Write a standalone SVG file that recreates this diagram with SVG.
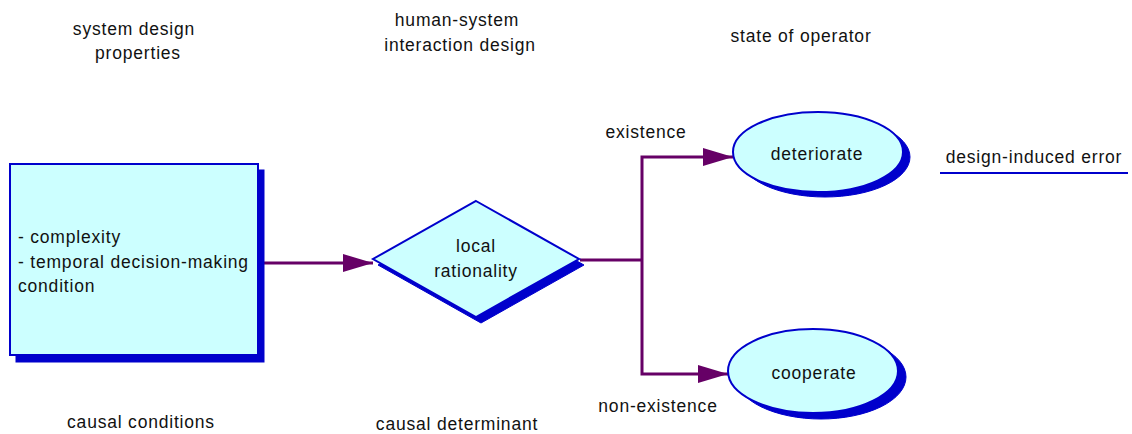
<svg xmlns="http://www.w3.org/2000/svg" width="1132" height="434" viewBox="0 0 1132 434">
  <defs>
    <style>
      text { font-family: "Liberation Sans", Arial, sans-serif; font-size: 17.5px; fill: #111; letter-spacing: 0.8px; }
      .mid { text-anchor: middle; }
      .shape { fill: #CCFFFF; stroke: #0000CC; stroke-width: 2; }
      .shadow { fill: #0000CC; stroke: #0000CC; stroke-width: 1; }
      .conn { fill: none; stroke: #660066; stroke-width: 3; }
    </style>
    <marker id="arrow" viewBox="0 0 30 18" refX="30" refY="9" markerWidth="30" markerHeight="18" markerUnits="userSpaceOnUse" orient="auto">
      <path d="M0,0 L30,9 L0,18 Z" fill="#660066"/>
    </marker>
  </defs>

  <!-- column headings -->
  <text class="mid" x="134" y="35">system design</text>
  <text class="mid" x="138" y="59">properties</text>
  <text class="mid" x="457" y="26">human-system</text>
  <text class="mid" x="460" y="51">interaction design</text>
  <text class="mid" x="801" y="42">state of operator</text>

  <!-- bottom captions -->
  <text class="mid" x="141" y="428">causal conditions</text>
  <text class="mid" x="457" y="430">causal determinant</text>

  <!-- legend -->
  <text class="mid" x="1034" y="163">design-induced error</text>
  <line x1="940" y1="173" x2="1128" y2="173" stroke="#0000CC" stroke-width="2"/>

  <!-- connectors -->
  <g id="connectors">
    <line class="conn" x1="259" y1="263" x2="373" y2="263" marker-end="url(#arrow)"/>
    <polyline class="conn" points="580,260 642,260"/>
    <polyline class="conn" points="642,260 642,157 733,157" marker-end="url(#arrow)"/>
    <polyline class="conn" points="642,260 642,374 728,374" marker-end="url(#arrow)"/>
    <text class="mid" x="646" y="138">existence</text>
    <text class="mid" x="658" y="412">non-existence</text>
  </g>

  <!-- causal conditions box -->
  <g id="conditions">
    <rect class="shadow" x="16" y="170" width="248" height="192"/>
    <rect class="shape" x="10" y="164" width="248" height="191"/>
    <text x="18" y="243">- complexity</text>
    <text x="18" y="268">- temporal decision-making</text>
    <text x="18" y="292">condition</text>
  </g>

  <!-- causal determinant diamond -->
  <g id="rationality">
    <polygon class="shadow" points="481,207 584,265 481,323 378,265"/>
    <polygon class="shape" points="476,201 579,259 476,317 373,259"/>
    <text class="mid" x="476" y="252">local</text>
    <text class="mid" x="476" y="277">rationality</text>
  </g>

  <!-- operator states -->
  <g id="deteriorate">
    <ellipse class="shadow" cx="825" cy="157" rx="85" ry="40"/>
    <ellipse class="shape" cx="818" cy="152" rx="85" ry="40"/>
    <text class="mid" x="817" y="160">deteriorate</text>
  </g>

  <g id="cooperate">
    <ellipse class="shadow" cx="821" cy="377" rx="85" ry="42"/>
    <ellipse class="shape" cx="813" cy="371" rx="85" ry="42"/>
    <text class="mid" x="814" y="379">cooperate</text>
  </g>
</svg>
